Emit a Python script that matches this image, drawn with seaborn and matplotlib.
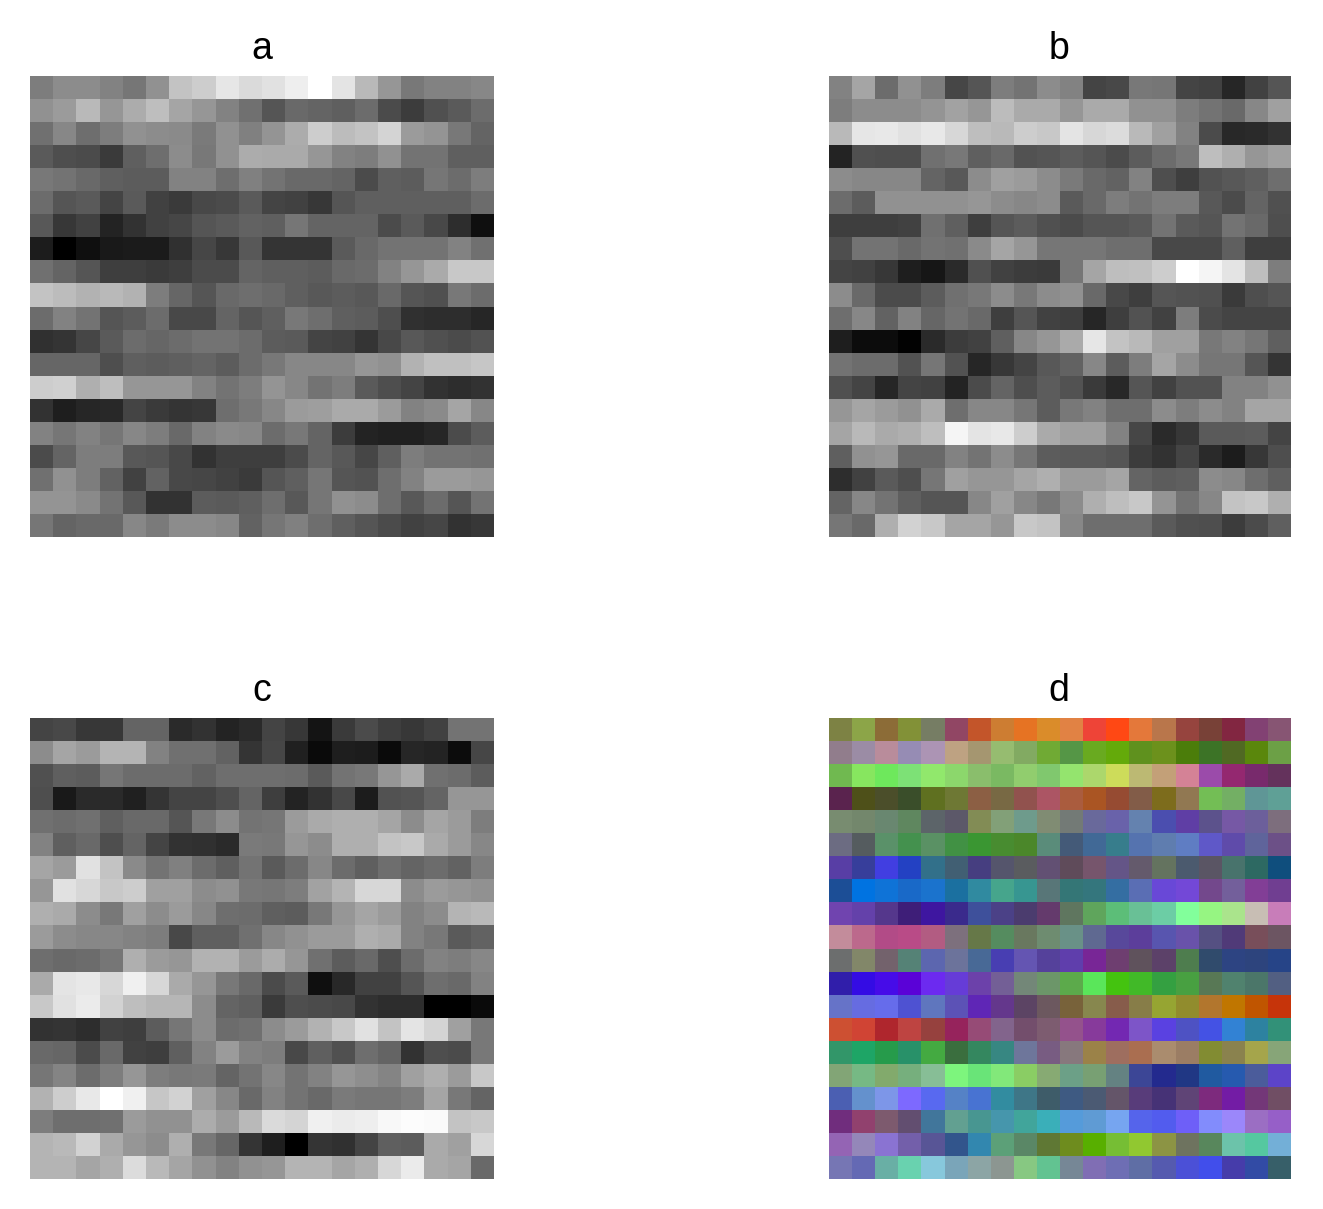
import numpy as np
import matplotlib
matplotlib.use("Agg")
import matplotlib.pyplot as plt
import seaborn as sns
from matplotlib.colors import ListedColormap

titles = ["a", "b", "c", "d"]

# grey level of each cell (0-255)
panelA = [
    [125,140,140,130,118,145,195,205,230,218,225,238,255,228,185,150,120,130,130,135],
    [145,155,185,150,172,190,165,150,130,112,85,105,100,95,108,75,60,80,90,108],
    [112,135,110,125,145,140,138,122,145,128,148,172,205,188,195,212,155,148,120,100],
    [90,78,75,58,95,110,140,120,145,172,170,170,150,130,125,145,115,115,95,95],
    [120,115,105,95,92,92,130,130,110,128,115,105,105,100,75,95,92,118,108,125],
    [108,85,90,68,90,65,58,72,75,90,68,65,55,85,95,95,95,95,95,108],
    [88,55,65,35,50,65,70,85,90,98,95,118,100,100,100,75,90,72,45,15],
    [28,0,15,25,27,27,48,70,55,88,52,52,52,90,105,115,115,115,130,112],
    [112,100,85,62,62,58,62,75,75,100,95,95,92,105,108,130,150,170,200,200],
    [195,188,178,185,178,125,102,85,105,110,105,95,88,92,88,105,85,80,120,108],
    [108,130,115,85,92,108,72,72,100,85,95,120,110,95,92,78,48,45,45,38],
    [48,52,70,90,108,102,108,115,115,108,92,90,68,65,52,72,88,80,75,82],
    [102,102,102,78,95,92,95,100,92,108,120,135,135,135,150,145,178,192,192,198],
    [205,208,175,190,150,150,150,130,115,125,148,135,115,125,90,78,68,50,45,50],
    [50,30,38,40,68,58,52,55,110,120,135,155,158,170,170,155,130,138,165,135],
    [130,118,130,118,135,125,105,130,138,135,108,120,100,60,35,32,32,38,75,92],
    [75,100,125,125,88,85,72,50,62,62,62,75,100,88,70,95,125,115,115,112],
    [112,145,125,98,65,98,72,70,65,58,85,95,118,85,82,110,130,155,155,150],
    [148,148,138,115,88,50,50,92,90,95,110,88,118,145,140,110,88,108,85,115],
    [118,100,105,105,135,122,140,140,135,98,118,128,110,95,85,75,65,70,50,55],
]
panelB = [
    [130,165,108,145,125,70,85,125,115,140,130,68,72,120,118,68,65,38,65,85],
    [125,140,140,140,148,162,150,188,170,170,150,170,170,145,145,125,115,105,135,160],
    [185,230,232,225,232,215,190,185,205,200,228,215,220,185,160,130,75,40,42,50],
    [35,80,78,78,112,120,95,105,82,85,92,85,75,92,108,120,190,175,150,160],
    [140,135,135,135,100,88,140,160,155,140,122,105,98,130,78,62,82,88,95,110],
    [108,92,145,145,145,145,150,140,135,140,90,105,125,115,125,125,88,75,100,80],
    [62,62,62,65,112,95,62,85,92,80,75,85,85,90,115,90,85,115,105,78],
    [78,115,115,105,115,112,138,165,150,118,118,118,110,110,72,72,72,95,62,62],
    [68,65,55,30,22,42,80,65,60,58,118,165,190,192,205,255,245,228,190,125],
    [140,105,75,75,92,112,120,140,120,140,145,105,72,62,85,82,80,58,78,85],
    [110,135,98,130,102,115,105,62,85,65,62,38,62,82,65,125,75,68,68,68],
    [30,12,12,2,42,60,65,95,135,150,170,230,195,185,160,160,120,130,118,95],
    [115,108,108,82,118,82,38,55,68,88,98,135,92,125,165,140,118,118,85,52],
    [80,68,38,68,65,35,75,100,78,92,82,58,40,85,65,82,82,130,130,145],
    [150,165,155,145,170,110,135,135,118,92,120,130,110,110,140,125,140,130,165,165],
    [165,185,170,175,190,245,228,232,205,170,160,160,130,70,42,55,90,90,92,68],
    [95,145,150,105,105,130,115,140,118,92,90,90,85,60,50,68,42,28,55,78],
    [45,65,90,78,118,160,150,150,165,175,155,155,165,100,92,95,140,135,110,95],
    [100,135,115,95,85,85,135,160,135,120,140,175,190,200,148,115,135,195,200,175],
    [118,105,175,210,200,165,165,150,200,195,135,110,110,110,90,80,78,60,75,95],
]
panelC = [
    [68,72,55,55,100,100,42,50,35,42,68,55,20,58,75,62,55,65,115,115],
    [140,165,155,180,180,130,112,112,98,52,70,32,10,30,28,10,38,35,12,70],
    [80,95,92,118,108,108,108,98,110,110,110,108,90,115,120,150,170,112,108,92],
    [78,25,42,42,32,52,68,68,78,100,62,35,50,72,28,82,85,100,150,150],
    [112,108,112,95,105,105,85,120,140,115,118,155,170,175,175,165,140,165,155,125],
    [130,95,105,78,100,68,50,48,42,122,120,150,140,175,175,195,200,170,155,135],
    [165,155,225,195,138,115,128,108,95,115,90,108,135,108,95,110,100,108,98,125],
    [150,225,215,200,205,160,160,140,145,120,118,125,162,180,215,215,140,155,150,145],
    [175,170,140,120,160,140,155,135,110,108,95,92,120,150,165,155,130,140,180,185],
    [155,140,135,135,130,125,72,95,95,112,135,145,155,155,175,170,130,120,90,98],
    [110,105,108,118,175,155,150,178,178,155,172,150,112,92,105,78,108,130,125,135],
    [170,228,232,215,240,215,170,150,120,105,75,90,15,40,65,65,85,110,105,130],
    [200,225,235,210,190,182,182,140,100,95,58,78,75,72,50,45,45,0,0,10],
    [50,52,45,65,62,92,118,140,108,112,140,155,178,200,225,195,228,212,160,120],
    [105,102,75,105,65,62,95,130,155,130,125,72,95,80,110,100,50,78,75,120],
    [118,132,108,125,150,125,120,122,100,115,135,115,130,150,142,132,160,175,155,200],
    [178,205,232,255,240,198,210,160,135,105,130,115,105,122,118,118,125,165,120,100],
    [125,110,110,112,155,145,145,172,155,185,218,212,240,235,238,248,252,250,195,200],
    [180,185,210,170,150,140,175,120,102,52,30,0,52,48,68,95,92,170,160,215],
    [180,180,165,175,220,185,165,145,130,145,150,180,180,165,175,215,235,170,165,105],
]

W, H = 1323, 1209
# left, top, right, bottom of each panel in pixels
boxes = [(30, 76, 494, 537), (829, 76, 1291, 537), (30, 718, 494, 1179), (829, 718, 1291, 1179)]
titleX = [0.499, 0.497, 0.499, 0.497]

plt.rcParams['font.family'] = ['Liberation Sans', 'DejaVu Sans']
fig = plt.figure(figsize=(W / 100, H / 100), dpi=100)

def makeAxes(box, title, x):
    l, t, r, b = box
    ax = fig.add_axes([l / W, 1 - b / H, (r - l) / W, (b - t) / H])
    ax.set_title(title, fontsize=27, pad=12.5, x=x)
    return ax

for box, title, x, vals in zip(boxes[:3], titles[:3], titleX[:3], [panelA, panelB, panelC]):
    ax = makeAxes(box, title, x)
    sns.heatmap(np.array(vals), vmin=0, vmax=255, cmap="gray", cbar=False,
                xticklabels=False, yticklabels=False, ax=ax)

# d is the three grey panels stacked as red, green and blue
rgb = np.dstack([panelA, panelB, panelC]) / 255
cellIdx = np.arange(400).reshape(20, 20)
ax = makeAxes(boxes[3], titles[3], titleX[3])
sns.heatmap(cellIdx, vmin=0, vmax=399, cmap=ListedColormap(rgb.reshape(-1, 3)), cbar=False,
            xticklabels=False, yticklabels=False, ax=ax)

plt.savefig("out.png", dpi=100)
